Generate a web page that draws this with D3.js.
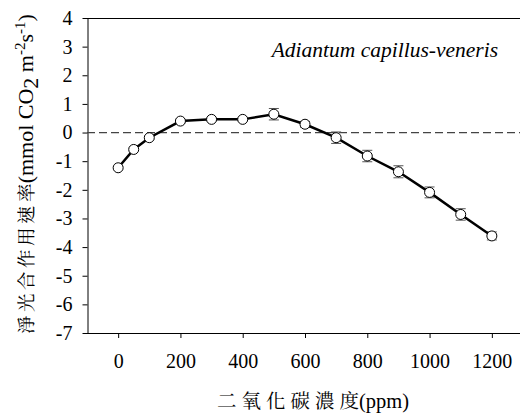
<!DOCTYPE html>
<html>
<head>
<meta charset="utf-8">
<script src="https://cdn.jsdelivr.net/npm/d3@7"></script>
</head>
<body style="margin:0;background:#fff">
<div id="chart"></div>
<script>
var co2 = [0, 50, 100, 200, 300, 400, 500, 600, 700, 800, 900, 1000, 1100, 1200]
var rate = [-1.23, -0.59, -0.18, 0.40, 0.46, 0.46, 0.64, 0.29, -0.18, -0.82, -1.37, -2.09, -2.86, -3.61]
var err = [0.05, 0.05, 0.06, 0.06, 0.06, 0.06, 0.2, 0.1, 0.2, 0.2, 0.21, 0.19, 0.2, 0.14]
var xTicks = [0, 200, 400, 600, 800, 1000, 1200]
var yTicks = [4, 3, 2, 1, 0, -1, -2, -3, -4, -5, -6, -7]

var SERIF = 'Liberation Serif'
var CJK = 'Noto Serif CJK TC'

var data = co2.map(function (c, i) {
  return { x: c, y: rate[i], e: err[i] }
})

var W = 520, H = 415
var margin = { top: 18, right: 0, bottom: 82, left: 87 }

var svg = d3.select('#chart').append('svg')
  .attr('width', W).attr('height', H)

var x = d3.scaleLinear().domain([-100, 1300]).range([margin.left, 523])
var y = d3.scaleLinear().domain([-7, 4]).range([H - margin.bottom, margin.top])

var fmt = function (d) { return String(d) }

// frame: top line
svg.append('line')
  .attr('x1', margin.left).attr('x2', W)
  .attr('y1', y(4) + 0.5).attr('y2', y(4) + 0.5)
  .attr('stroke', '#000').attr('stroke-width', 1)

var yAxis = svg.append('g')
  .attr('transform', 'translate(' + (margin.left + 0.5) + ',0)')
  .call(d3.axisLeft(y).tickValues(yTicks).tickFormat(fmt).tickSize(5).tickPadding(10).tickSizeOuter(0))
yAxis.selectAll('text').style('font-family', SERIF).style('font-size', '20px')

var xAxis = svg.append('g')
  .attr('transform', 'translate(0,' + y(-7) + ')')
  .call(d3.axisBottom(x).tickValues(xTicks).tickFormat(fmt).tickSize(5).tickPadding(16).tickSizeOuter(0))
xAxis.select('.domain').attr('d', 'M' + margin.left + ',0.5H' + W)
xAxis.selectAll('text').style('font-family', SERIF).style('font-size', '20px')

// zero reference line
svg.append('line')
  .attr('x1', margin.left).attr('x2', W)
  .attr('y1', y(0)).attr('y2', y(0))
  .attr('stroke', '#444').attr('stroke-width', 1.2)
  .attr('stroke-dasharray', '8,4')

// error bars
var eb = svg.append('g').selectAll('g').data(data).enter().append('g')
eb.append('line')
  .attr('x1', function (d) { return x(d.x) })
  .attr('x2', function (d) { return x(d.x) })
  .attr('y1', function (d) { return y(d.y + d.e) })
  .attr('y2', function (d) { return y(d.y - d.e) })
  .attr('stroke', '#555')
eb.selectAll('.cap').data(function (d) { return [d.y + d.e, d.y - d.e].map(function (v) { return { x: d.x, v: v } }) })
  .enter().append('line')
  .attr('x1', function (d) { return x(d.x) - 5 })
  .attr('x2', function (d) { return x(d.x) + 5 })
  .attr('y1', function (d) { return y(d.v) })
  .attr('y2', function (d) { return y(d.v) })
  .attr('stroke', '#555')

var line = d3.line()
  .x(function (d) { return x(d.x) })
  .y(function (d) { return y(d.y) })

svg.append('path').datum(data)
  .attr('d', line)
  .attr('fill', 'none')
  .attr('stroke', '#000')
  .attr('stroke-width', 2.5)

svg.selectAll('circle.pt').data(data).enter().append('circle')
  .attr('class', 'pt')
  .attr('cx', function (d) { return x(d.x) })
  .attr('cy', function (d) { return y(d.y) })
  .attr('r', 5)
  .attr('fill', '#fff')
  .attr('stroke', '#000')
  .attr('stroke-width', 1)

// species label
svg.append('text')
  .attr('x', 498).attr('y', 57)
  .attr('text-anchor', 'end')
  .style('font-family', SERIF)
  .style('font-size', '21.5px')
  .style('font-style', 'italic')
  .text('Adiantum capillus-veneris')

// x title
var xt = svg.append('text')
  .attr('x', 313).attr('y', 408)
  .attr('text-anchor', 'middle')
  .style('font-family', SERIF)
  .style('font-size', '20.5px')
xt.append('tspan').style('font-family', CJK).style('font-size', '19.5px')
  .style('letter-spacing', '5px').text('二氧化碳濃')
xt.append('tspan').style('font-family', CJK).style('font-size', '19.5px').text('度')
xt.append('tspan').text('(ppm)')

// y title
var yt = svg.append('text')
  .attr('transform', 'translate(33,174) rotate(-90)')
  .attr('text-anchor', 'middle')
  .style('font-family', SERIF)
  .style('font-size', '22px')
yt.append('tspan').style('font-family', CJK).style('font-size', '18.5px')
  .style('letter-spacing', '3.5px').text('淨光合作用速')
yt.append('tspan').style('font-family', CJK).style('font-size', '18.5px').text('率')
yt.append('tspan').text('(mmol CO')
yt.append('tspan').attr('baseline-shift', '-5').text('2')
yt.append('tspan').text(' m')
yt.append('tspan').attr('baseline-shift', '8').style('font-size', '15px').text('-2')
yt.append('tspan').text('s')
yt.append('tspan').attr('baseline-shift', '8').style('font-size', '15px').text('-1')
yt.append('tspan').text(')')
</script>
</body>
</html>
